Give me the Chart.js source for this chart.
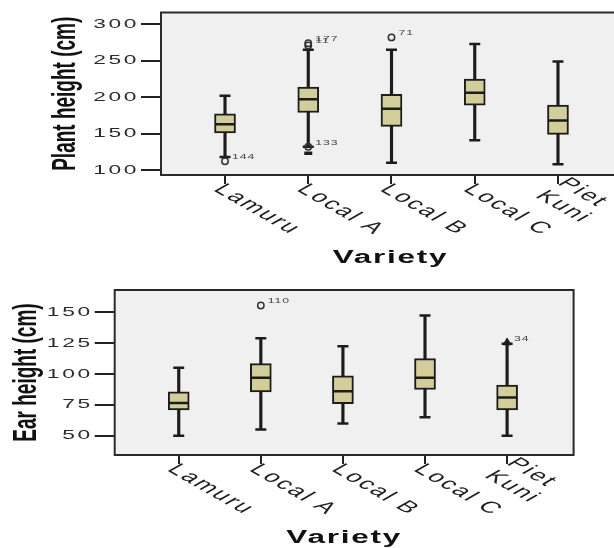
<!DOCTYPE html>
<html><head><meta charset="utf-8">
<script src="https://cdn.jsdelivr.net/npm/chart.js@4.4.0/dist/chart.umd.min.js"></script>
<style>
html,body{margin:0;padding:0;background:#fff;overflow:hidden;width:614px;height:548px;position:relative;}
#c1{position:absolute;left:0;top:0;}
#c2{position:absolute;left:0;top:275px;}
</style></head><body>
<canvas id="c1" width="640" height="275"></canvas>
<canvas id="c2" width="614" height="273"></canvas>
<script>
// ---------- data ----------
const categories = ['Lamuru', 'Local A', 'Local B', 'Local C', 'Piet\nKuni'];
const xTitle = 'Variety';

const plantTitle = 'Plant height (cm)';
const plantTicks = [100, 150, 200, 250, 300];
const plantLow    = [118, 132, 110, 141, 108];
const plantQ1     = [151, 179, 160, 189, 149];
const plantMedian = [163, 197, 184, 206, 168];
const plantQ3     = [177, 214, 204, 225, 189];
const plantHigh   = [202, 265, 265, 273, 249];
const plantOutCat   = [1, 2, 2, 2, 3];
const plantOutVal   = [112, 274, 271, 132, 282];
const plantOutLabel = ['144', '177', '11', '133', '71'];
const plantExtCat   = [2];
const plantExtVal   = [123];
const plantExtLabel = [''];

const earTitle = 'Ear height (cm)';
const earTicks = [50, 75, 100, 125, 150];
const earLow    = [50, 55, 60, 65, 50];
const earQ1     = [71, 85.5, 76, 87.5, 71];
const earMedian = [76.5, 97, 86, 97, 81];
const earQ3     = [85.5, 108.5, 98.5, 112.5, 91];
const earHigh   = [105, 129, 122.5, 147.5, 124.5];
const earOutCat   = [2];
const earOutVal   = [155.5];
const earOutLabel = ['110'];
const earExtCat   = [5];
const earExtVal   = [125.5];
const earExtLabel = ['34'];

// ---------- helpers ----------
const K = 1.75;            // horizontal stretch of the reference picture
const DARK = '#1c1c1c';
const BOX_FILL = '#D3CE97';

function boxDatasets(low, q1, med, q3, high, outCat, outVal, extCat, extVal, extStyle) {
  const idx = categories.map((c, i) => i + 1);
  return [
    {type: 'bar', data: idx.map((x, i) => ({x, y: [low[i], high[i]]})),
     barThickness: 2.5, backgroundColor: DARK, borderWidth: 0, grouped: false, order: 6},
    {type: 'scatter', data: idx.flatMap((x, i) => [{x, y: low[i]}, {x, y: high[i]}]),
     pointStyle: 'line', pointRadius: 5.5, pointBorderWidth: 2.5, pointBorderColor: DARK, borderColor: DARK, order: 5},
    {type: 'bar', data: idx.map((x, i) => ({x, y: [q1[i], q3[i]]})),
     barThickness: 21, backgroundColor: BOX_FILL, borderColor: DARK, borderWidth: 2,
     borderSkipped: false, grouped: false, order: 4},
    {type: 'scatter', data: idx.map((x, i) => ({x, y: med[i]})),
     pointStyle: 'line', pointRadius: 10, pointBorderWidth: 2.5, pointBorderColor: DARK, borderColor: DARK, order: 3},
    {type: 'scatter', data: outCat.map((c, i) => ({x: c, y: outVal[i]})),
     pointStyle: 'circle', pointRadius: 3.2, pointBorderWidth: 1.5, pointBorderColor: '#333',
     pointBackgroundColor: 'rgba(0,0,0,0)', borderColor: '#333', order: 2},
    {type: 'scatter', data: extCat.map((c, i) => ({x: c, y: extVal[i]})),
     pointStyle: extStyle, pointRadius: extStyle === 'line' ? 4 : 4.5, pointBorderWidth: extStyle === 'line' ? 3.5 : 1,
     pointBorderColor: DARK, pointBackgroundColor: DARK, borderColor: DARK, order: 1}
  ];
}

function stretchText(ctx, str, x, y, angle, font, align, baseline, color, spacing, dy) {
  ctx.save();
  ctx.translate(x, y);
  ctx.scale(K, 1);
  ctx.rotate(angle);
  ctx.font = font;
  ctx.textAlign = align;
  ctx.textBaseline = baseline;
  ctx.fillStyle = color;
  if ('letterSpacing' in ctx) ctx.letterSpacing = spacing || '0px';
  ctx.fillText(str, 0, dy || 0);
  ctx.restore();
}

const framePlugin = {
  id: 'frame',
  beforeDraw(chart) {
    const {ctx, chartArea: a} = chart;
    ctx.save();
    ctx.fillStyle = '#F0F0F0';
    ctx.fillRect(a.left, a.top, a.right - a.left, a.bottom - a.top);
    ctx.restore();
  },
  afterDatasetsDraw(chart) {
    const {ctx, chartArea: a} = chart;
    ctx.save();
    ctx.strokeStyle = '#2a2a2a';
    ctx.lineWidth = 2;
    ctx.strokeRect(a.left, a.top, a.right - a.left, a.bottom - a.top);
    ctx.restore();
  }
};

const textPlugin = {
  id: 'txt',
  afterDraw(chart, args, o) {
    const {ctx, chartArea: a, scales: {x, y}} = chart;
    // y tick labels
    y.ticks.forEach(t => {
      stretchText(ctx, String(t.value), a.left - 22, y.getPixelForValue(t.value), 0,
        '13px "Liberation Sans", Arial, sans-serif', 'right', 'middle', '#2b2b2b', '1.5px');
    });
    // y title
    stretchText(ctx, o.yTitle, o.yTitleX, (a.top + a.bottom) / 2, -Math.PI / 2,
      'bold 19px "Liberation Sans", Arial, sans-serif', 'center', 'middle', '#111', '0px');
    // x tick labels (rotated 45deg in the unstretched frame)
    categories.forEach((c, i) => {
      const lines = c.split('\n');
      const n = lines.length;
      const ax = x.getPixelForValue(i + 1) - 7;
      const ay = a.bottom + 12;
      lines.forEach((ln, j) => {
        stretchText(ctx, ln, ax, ay, Math.PI / 4,
          '16px "Liberation Sans", Arial, sans-serif', 'left', 'middle', '#1e1e1e', '1.5px',
          (j - (n - 1) / 2) * 18);
      });
    });
    // x title
    stretchText(ctx, xTitle, (a.left + a.right) / 2 + (o.xTitleDX || 0), o.xTitleY, 0,
      'bold 18px "Liberation Sans", Arial, sans-serif', 'center', 'middle', '#111', '1px');
    // outlier case labels
    (o.outLabels || []).forEach(p => {
      if (!p.label) return;
      stretchText(ctx, p.label, x.getPixelForValue(p.c) + 7, y.getPixelForValue(p.v) - 4, 0,
        '7px "Liberation Sans", Arial, sans-serif', 'left', 'middle', '#444', '0.5px');
    });
  }
};

function makeChart(id, cfg) {
  return new Chart(document.getElementById(id), {
    type: 'bar',
    data: {datasets: cfg.datasets},
    options: {
      responsive: false,
      animation: false,
      events: [],
      devicePixelRatio: 1,
      layout: {padding: cfg.padding},
      plugins: {
        legend: {display: false},
        tooltip: {enabled: false},
        txt: cfg.txt
      },
      scales: {
        x: {
          type: 'linear', position: 'bottom', min: cfg.xMin, max: cfg.xMax,
          offset: false,
          afterBuildTicks: s => { s.ticks = categories.map((c, i) => ({value: i + 1})); },
          afterFit: s => { s.height = cfg.xHeight; },
          ticks: {display: false},
          grid: {offset: false, drawOnChartArea: false, drawTicks: true, tickLength: 9, color: '#222', lineWidth: 2},
          border: {display: false}
        },
        y: {
          type: 'linear', position: 'left', min: cfg.yMin, max: cfg.yMax,
          afterBuildTicks: s => { s.ticks = cfg.yTicks.map(v => ({value: v})); },
          afterFit: s => { s.width = cfg.yWidth; },
          ticks: {display: false},
          grid: {drawOnChartArea: false, drawTicks: true, tickLength: 20, color: '#222', lineWidth: 2},
          border: {display: false}
        }
      }
    },
    plugins: [framePlugin, textPlugin]
  });
}

makeChart('c1', {
  datasets: boxDatasets(plantLow, plantQ1, plantMedian, plantQ3, plantHigh,
                        plantOutCat, plantOutVal, plantExtCat, plantExtVal, 'line'),
  padding: {left: 0, right: 20, top: 10, bottom: 0},
  xMin: 0.231, xMax: 5.745, xHeight: 100,
  yMin: 93.2, yMax: 316.2, yTicks: plantTicks, yWidth: 161,
  txt: {
    yTitle: plantTitle, yTitleX: 65.5, xTitleY: 258,
    outLabels: plantOutCat.map((c, i) => ({c, v: plantOutVal[i], label: plantOutLabel[i]}))
      .concat(plantExtCat.map((c, i) => ({c, v: plantExtVal[i], label: plantExtLabel[i]})))
  }
});

makeChart('c2', {
  datasets: boxDatasets(earLow, earQ1, earMedian, earQ3, earHigh,
                        earOutCat, earOutVal, earExtCat, earExtVal, 'triangle'),
  padding: {left: 0, right: 40.4, top: 15, bottom: 0},
  xMin: 0.22, xMax: 5.81, xHeight: 93,
  yMin: 34.4, yMax: 168.1, yTicks: earTicks, yWidth: 114.7,
  txt: {
    yTitle: earTitle, yTitleX: 26.5, xTitleY: 263,
    outLabels: earOutCat.map((c, i) => ({c, v: earOutVal[i], label: earOutLabel[i]}))
      .concat(earExtCat.map((c, i) => ({c, v: earExtVal[i], label: earExtLabel[i]})))
  }
});
</script>
</body></html>
